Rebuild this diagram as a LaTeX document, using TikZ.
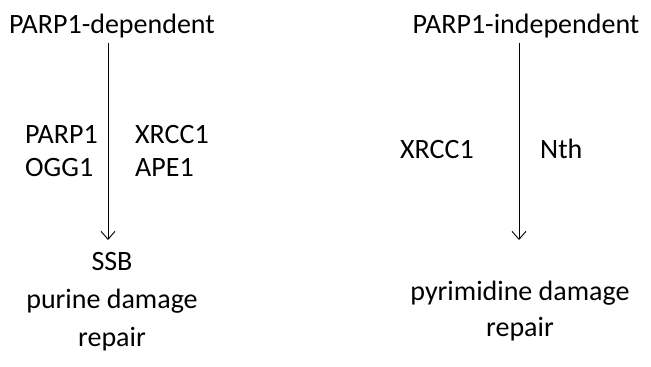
\documentclass[tikz,border=0pt]{standalone}
\usepackage{fontspec}
\setmainfont{Carlito}
\usetikzlibrary{arrows.meta}
\begin{document}
\begin{tikzpicture}[x=1pt,y=-1pt,
  lbl/.style={font=\fontsize{28}{34}\selectfont, inner sep=0pt, anchor=base},
  lleft/.style={lbl, anchor=base west},
  flow/.style={-{Straight Barb[length=8pt,width=14pt]}, line width=0.9pt}]
\useasboundingbox (0,0) rectangle (651,367);
% left pathway
\node[lbl] (dep) at (112,33) {PARP1-dependent};
\coordinate (a1) at (108,43);
\coordinate (a2) at (108,240);
\draw[flow] (a1) -- (a2);
\node[lleft] (parp) at (25,143) {PARP1};
\node[lleft] (xrcc) at (135,143) {XRCC1};
\node[lleft] (ogg) at (25,176) {OGG1};
\node[lleft] (ape) at (135,176) {APE1};
\node[lbl] (ssb) at (112,270) {SSB};
\node[lbl] (pur) at (112,308) {purine damage};
\node[lbl] (rep1) at (112,346) {repair};
% right pathway
\node[lbl] (indep) at (526,33) {PARP1-independent};
\coordinate (b1) at (519,43);
\coordinate (b2) at (519,240);
\draw[flow] (b1) -- (b2);
\node[lleft] (xrcc2) at (400,158) {XRCC1};
\node[lleft] (nth) at (540,158) {Nth};
\node[lbl] (pyr) at (520,300) {pyrimidine damage};
\node[lbl] (rep2) at (520,336) {repair};
\end{tikzpicture}
\end{document}
